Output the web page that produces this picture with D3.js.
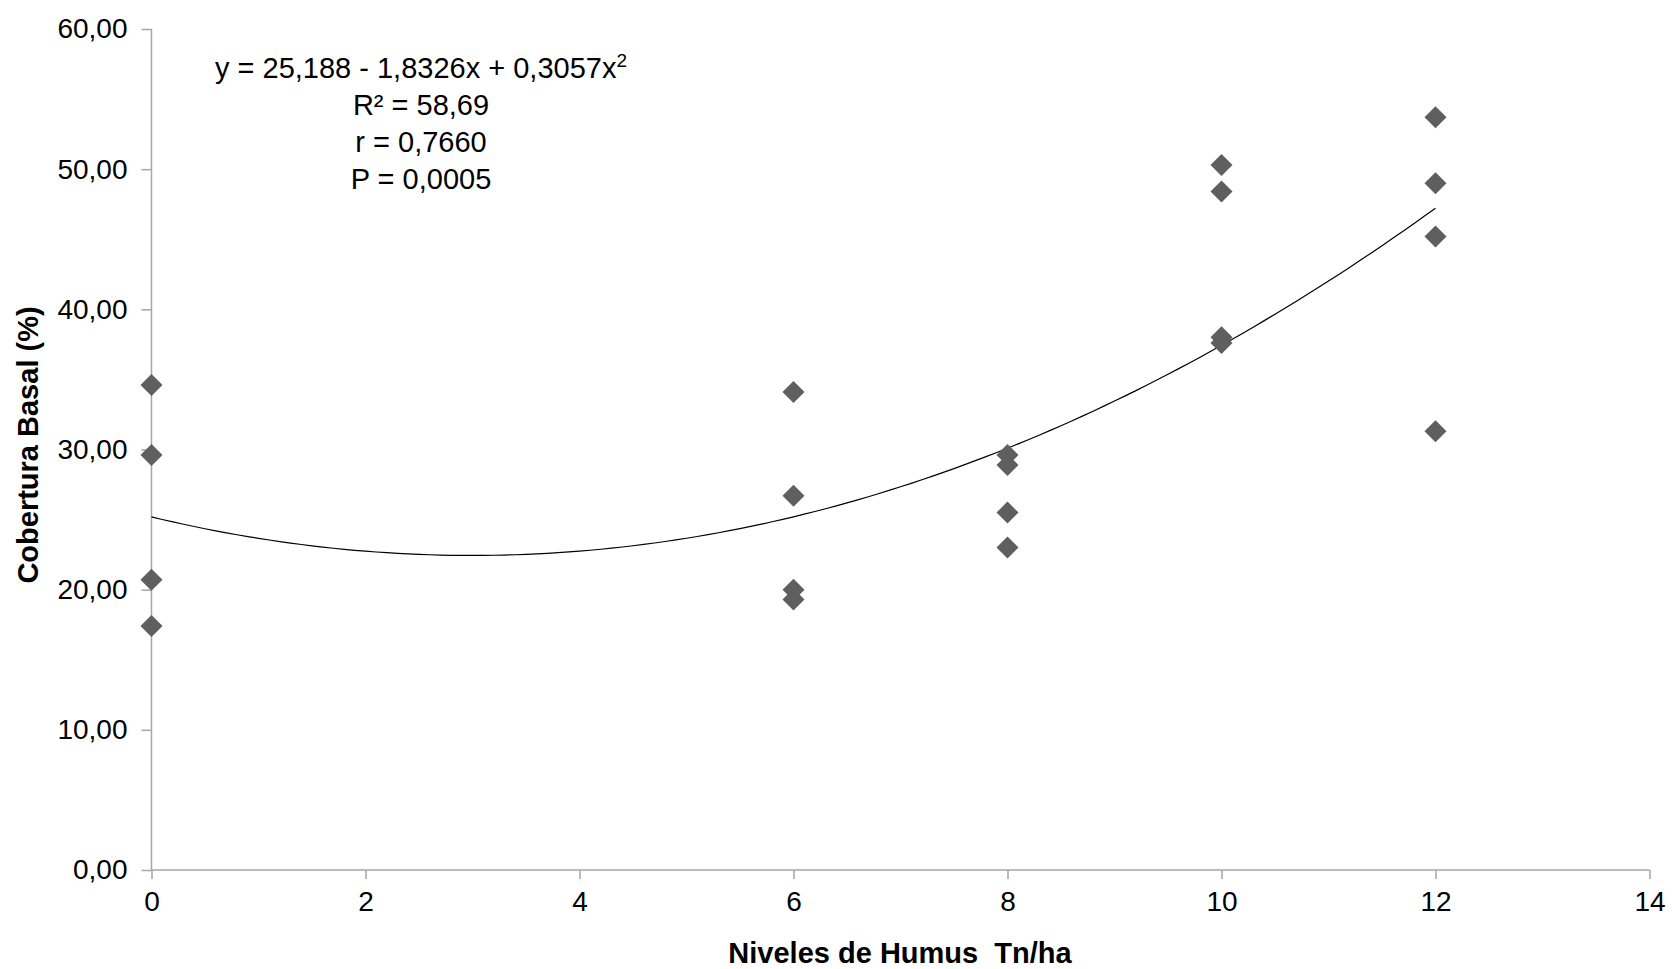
<!DOCTYPE html>
<html>
<head>
<meta charset="utf-8">
<script src="https://cdn.jsdelivr.net/npm/d3@7"></script>
<style>
  body { margin: 0; background: #fff; }
  svg text { font-family: "Liberation Sans", Arial, sans-serif; }
</style>
</head>
<body>
<script>
// datos
var niveles = [0, 0, 0, 0, 6, 6, 6, 6, 8, 8, 8, 8, 10, 10, 10, 10, 12, 12, 12, 12];
var cobertura = [34.6, 29.6, 20.7, 17.4, 34.1, 26.7, 20.0, 19.3, 29.6, 28.9, 25.5, 23.0,
                 50.3, 48.4, 38.0, 37.6, 53.7, 49.0, 45.2, 31.3];
var coef = [25.188, -1.8326, 0.3057]; // ecuacion de la curva
var xTicks = [0, 2, 4, 6, 8, 10, 12, 14];
var yTicks = [0, 10, 20, 30, 40, 50, 60];
var textos = ["R² = 58,69", "r = 0,7660", "P = 0,0005"];

var w = 1672, h = 969;
var x0 = 151.5, x1 = 1649.5, y0 = 870, y1 = 29;

var svg = d3.select('body').append('svg')
    .attr('width', w).attr('height', h);

var xScale = d3.scaleLinear().domain([0, 14]).range([x0, x1]);
var yScale = d3.scaleLinear().domain([0, 60]).range([y0, y1]);

var loc = d3.formatLocale({decimal: ",", thousands: ".", grouping: [3], currency: ["", ""]});
var fmt = loc.format(".2f");

var yAxis = d3.axisLeft(yScale).tickValues(yTicks).tickFormat(fmt).tickSize(10).tickPadding(14);
var xAxis = d3.axisBottom(xScale).tickValues(xTicks).tickFormat(d3.format("d")).tickSize(9).tickPadding(12);

var gy = svg.append('g').attr('transform', 'translate(' + x0 + ',0)').call(yAxis);
var gx = svg.append('g').attr('transform', 'translate(0,' + y0 + ')').call(xAxis);

[gx, gy].forEach(function(g) {
    g.selectAll('path, line').attr('stroke', '#a6a6a6').attr('stroke-width', 1.5);
    g.selectAll('text').attr('fill', '#000').style('font-size', '28px');
});
gy.select('.domain').attr('d', 'M0,' + y1 + 'V' + y0);
gx.select('.domain').attr('d', 'M' + x0 + ',0H' + x1);

// curva de regresion
var curva = d3.range(0, 12.001, 0.1).map(function(v) {
    return [v, coef[0] + coef[1] * v + coef[2] * v * v];
});
svg.append('path')
    .datum(curva)
    .attr('fill', 'none')
    .attr('stroke', '#000')
    .attr('stroke-width', 1.2)
    .attr('d', d3.line()
        .x(function(d) { return xScale(d[0]); })
        .y(function(d) { return yScale(d[1]); }));

// puntos (rombos)
var r = 11;
svg.selectAll('path.punto')
    .data(niveles)
    .enter()
    .append('path')
    .attr('class', 'punto')
    .attr('fill', '#5f5f5f')
    .attr('d', function(d, i) {
        var cx = xScale(d), cy = yScale(cobertura[i]);
        return 'M' + cx + ',' + (cy - r) + 'L' + (cx + r) + ',' + cy +
               'L' + cx + ',' + (cy + r) + 'L' + (cx - r) + ',' + cy + 'Z';
    });

// ecuacion
var eq = svg.append('text')
    .attr('x', 421).attr('y', 78)
    .attr('text-anchor', 'middle')
    .style('font-size', '29px');
eq.append('tspan').text('y = 25,188 - 1,8326x + 0,3057x');
eq.append('tspan').attr('dy', -11).style('font-size', '19px').text('2');

svg.selectAll('text.est')
    .data(textos)
    .enter()
    .append('text')
    .attr('class', 'est')
    .attr('x', 421)
    .attr('y', function(d, i) { return 115 + i * 37; })
    .attr('text-anchor', 'middle')
    .style('font-size', '29px')
    .text(function(d) { return d; });

// titulos de ejes
svg.append('text')
    .attr('x', 900).attr('y', 963)
    .attr('text-anchor', 'middle')
    .style('font-size', '29px')
    .style('font-weight', 'bold')
    .style('white-space', 'pre')
    .text('Niveles de Humus  Tn/ha');

svg.append('text')
    .attr('transform', 'translate(38,445) rotate(-90)')
    .attr('text-anchor', 'middle')
    .style('font-size', '29px')
    .style('font-weight', 'bold')
    .text('Cobertura Basal (%)');
</script>
</body>
</html>
